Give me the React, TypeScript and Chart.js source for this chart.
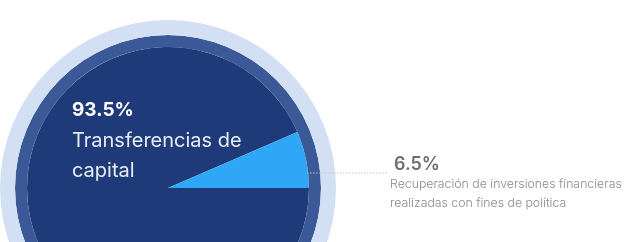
import React, { useEffect, useRef } from "react";
import { Chart, registerables } from "chart.js";

Chart.register(...registerables);

const categories = ["Transferencias de capital", "Recuperación de inversiones financieras realizadas con fines de política"];
const shares = [93.5, 6.5];
const sliceColors = ["#1e3a78", "#2ea8f6"];
const pctLabels = ["93.5%", "6.5%"];
const bigLabelLines = ["Transferencias de", "capital"];
const smallLabelLines = ["Recuperación de inversiones financieras", "realizadas con fines de política"];
const ringValues = [100];

const labelPlugin = {
  id: "sliceLabels",
  afterDatasetsDraw(chart: any) {
    const ctx = chart.ctx;
    const meta = chart.getDatasetMeta(2);
    const arc = meta.data[1];
    if (!arc) return;
    const cx = arc.x;
    const cy = arc.y;
    const r = arc.outerRadius;
    ctx.save();
    ctx.fillStyle = "#ffffff";
    ctx.textBaseline = "alphabetic";
    ctx.textAlign = "left";
    const lx = cx - r + 45;
    ctx.font = "bold 19px Inter";
    ctx.fillText(pctLabels[0], lx, cy - 72);
    ctx.font = "20px Inter";
    ctx.fillStyle = "#e8ecf4";
    ctx.fillText(bigLabelLines[0], lx, cy - 41);
    ctx.fillText(bigLabelLines[1], lx, cy - 11);
    const ly = cy - 15;
    ctx.strokeStyle = "#c4c8d0";
    ctx.lineWidth = 1;
    ctx.setLineDash([1.5, 1.5]);
    ctx.beginPath();
    ctx.moveTo(cx + r - 2, ly);
    ctx.lineTo(cx + r + 79, ly);
    ctx.stroke();
    ctx.setLineDash([]);
    const tx = cx + r + 81;
    ctx.fillStyle = "#6e6e6e";
    ctx.font = "600 18px Inter";
    ctx.fillText(pctLabels[1], tx + 4, cy - 18);
    ctx.fillStyle = "#8a8a8a";
    ctx.font = "300 12.3px Inter";
    ctx.fillText(smallLabelLines[0], tx, cy + 0);
    ctx.fillText(smallLabelLines[1], tx, cy + 19);
    ctx.restore();
  },
};

export default function App() {
  const ref = useRef<HTMLCanvasElement | null>(null);
  useEffect(() => {
    document.body.style.margin = "0";
    document.body.style.background = "#ffffff";
    const chart = new Chart(ref.current as HTMLCanvasElement, {
      type: "doughnut",
      data: {
        labels: categories,
        datasets: [
          { data: ringValues, backgroundColor: ["#d3dff2"], borderWidth: 0, weight: 15 } as any,
          { data: ringValues, backgroundColor: ["#3b5996"], borderWidth: 0, weight: 12 } as any,
          { data: shares, backgroundColor: sliceColors, borderWidth: 0, weight: 141 } as any,
        ],
      },
      options: {
        responsive: false,
        animation: false,
        cutout: 0,
        rotation: 90,
        layout: { padding: { left: 0, top: 0, bottom: 0, right: 290 } },
        plugins: { legend: { display: false }, tooltip: { enabled: false } },
      } as any,
      plugins: [labelPlugin],
    });
    return () => chart.destroy();
  }, []);
  return (
    <div style={{ position: "fixed", top: 0, left: 0, width: 626, height: 242, overflow: "hidden", background: "#fff" }}>
      <canvas ref={ref} width={626} height={376} style={{ display: "block" }} />
    </div>
  );
}
